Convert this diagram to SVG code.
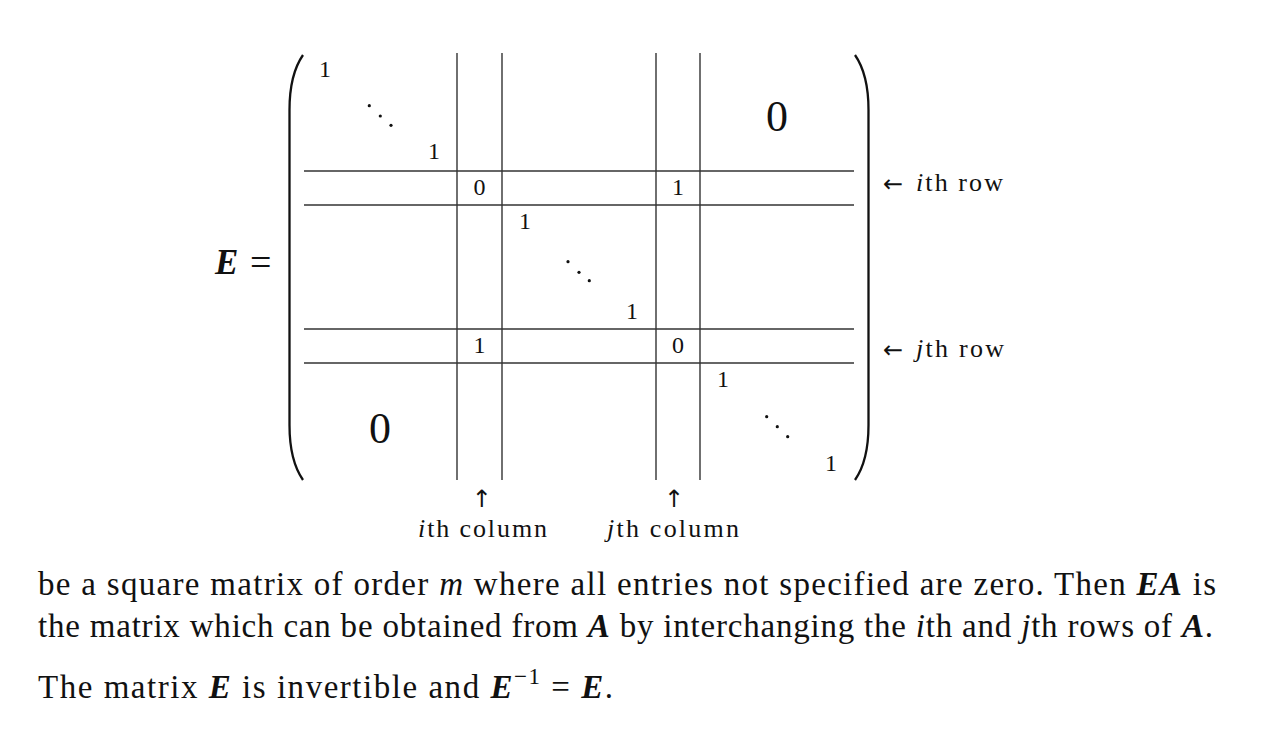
<svg xmlns="http://www.w3.org/2000/svg" width="1262" height="735" viewBox="0 0 1262 735">
<style>
text{font-family:"Liberation Serif","Times New Roman",serif;fill:#111}
.e{font-size:24px;text-anchor:middle}
.big{font-size:44px;text-anchor:middle}
.lbl{font-size:26px}
.arr{font-family:"DejaVu Sans",sans-serif;font-size:24px}
.body{font-size:33px}
.it{font-style:italic}
.bi{font-style:italic;font-weight:bold}
.rule{stroke:#333;stroke-width:1.4;fill:none}
.par{stroke:#111;stroke-width:2.3;fill:none}
.dot{fill:#111}
</style>
<rect width="1262" height="735" fill="#fff"/>
<g id="lhs">
<text x="215" y="274" style="font-size:35px" class="bi">E</text>
<text x="250" y="275" style="font-size:38px">=</text>
</g>
<g id="parens">
<path class="par" d="M303,55 C294,68 289.5,85 289.5,110 L289.5,425 C289.5,450 294,467 303,480"/>
<path class="par" d="M855,55 C864,68 868.5,85 868.5,110 L868.5,425 C868.5,450 864,467 855,480"/>
</g>
<g id="rules">
<line class="rule" x1="457" y1="53" x2="457" y2="480"/>
<line class="rule" x1="502" y1="53" x2="502" y2="480"/>
<line class="rule" x1="656" y1="53" x2="656" y2="480"/>
<line class="rule" x1="700" y1="53" x2="700" y2="480"/>
<line class="rule" x1="304" y1="171" x2="854" y2="171"/>
<line class="rule" x1="304" y1="205" x2="854" y2="205"/>
<line class="rule" x1="304" y1="329" x2="854" y2="329"/>
<line class="rule" x1="304" y1="363" x2="854" y2="363"/>
</g>
<g id="entries">
<text class="e" x="325" y="77">1</text>
<text class="e" x="434" y="159">1</text>
<text class="e" x="479.5" y="195">0</text>
<text class="e" x="678" y="195">1</text>
<text class="e" x="525" y="229">1</text>
<text class="e" x="632" y="319">1</text>
<text class="e" x="479.5" y="353">1</text>
<text class="e" x="678" y="353">0</text>
<text class="e" x="723" y="387">1</text>
<text class="e" x="831" y="471">1</text>
<text class="big" x="777" y="131">0</text>
<text class="big" x="380" y="443">0</text>
</g>
<g id="ddots">
<circle class="dot" cx="369.3" cy="105.7" r="1.6"/>
<circle class="dot" cx="380.3" cy="116" r="1.6"/>
<circle class="dot" cx="391" cy="125.3" r="1.6"/>
<circle class="dot" cx="568" cy="261.7" r="1.6"/>
<circle class="dot" cx="579" cy="272.3" r="1.6"/>
<circle class="dot" cx="589.3" cy="280.7" r="1.6"/>
<circle class="dot" cx="766.7" cy="416.7" r="1.6"/>
<circle class="dot" cx="777.3" cy="426.7" r="1.6"/>
<circle class="dot" cx="787.7" cy="436.7" r="1.6"/>
</g>
<g id="row-labels">
<text class="arr" x="883" y="192">←</text>
<text class="lbl" x="916" y="191" textLength="87" lengthAdjust="spacing"><tspan class="it">i</tspan>th row</text>
<text class="arr" x="883" y="358">←</text>
<text class="lbl" x="916" y="357" textLength="88" lengthAdjust="spacing"><tspan class="it">j</tspan>th row</text>
</g>
<g id="col-labels">
<text class="arr" x="481.7" y="507" text-anchor="middle">↑</text>
<text class="arr" x="674" y="507" text-anchor="middle">↑</text>
<text class="lbl" x="418" y="537" textLength="129" lengthAdjust="spacing"><tspan class="it">i</tspan>th column</text>
<text class="lbl" x="607" y="537" textLength="132" lengthAdjust="spacing"><tspan class="it">j</tspan>th column</text>
</g>
<g id="body">
<text class="body" x="38" y="595" textLength="1178" lengthAdjust="spacing">be a square matrix of order <tspan class="it">m</tspan> where all entries not specified are zero.  Then <tspan class="bi">EA</tspan> is</text>
<text class="body" x="38" y="637" textLength="1175" lengthAdjust="spacing">the matrix which can be obtained from <tspan class="bi">A</tspan> by interchanging the <tspan class="it">i</tspan>th and <tspan class="it">j</tspan>th rows of <tspan class="bi">A</tspan>.</text>
<text class="body" x="38" y="698" textLength="575" lengthAdjust="spacing">The matrix <tspan class="bi">E</tspan> is invertible and <tspan class="bi">E</tspan><tspan dy="-14" style="font-size:23px">−1</tspan><tspan dy="14"> = </tspan><tspan class="bi">E</tspan>.</text>
</g>
</svg>
